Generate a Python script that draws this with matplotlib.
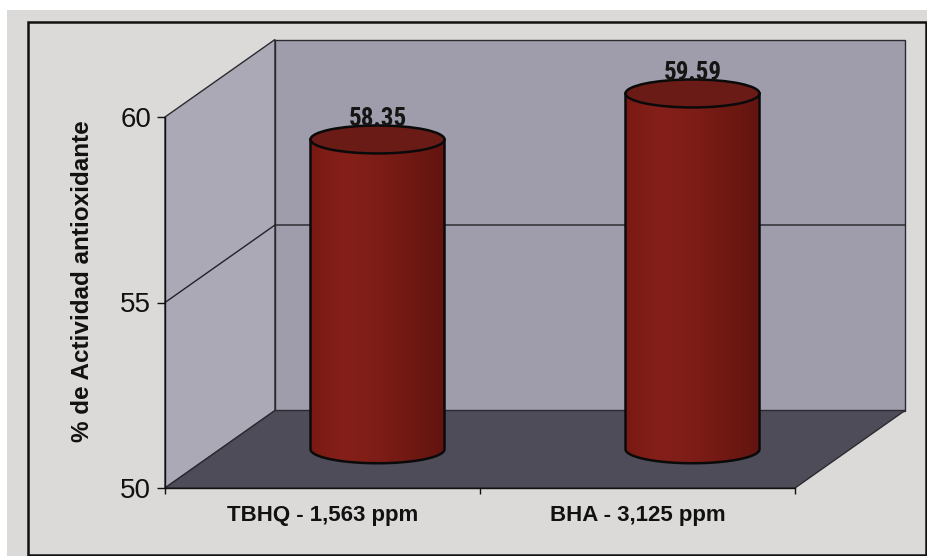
import numpy as np
import matplotlib
matplotlib.use("Agg")
import matplotlib.pyplot as plt
from matplotlib.patches import Polygon, Ellipse, Rectangle

# ---- data ----
categories = ["TBHQ - 1,563 ppm", "BHA - 3,125 ppm"]
values = [58.35, 59.59]
value_labels = ["58.35", "59.59"]
y_ticks = [50, 55, 60]
y_label = "% de Actividad antioxidante"

COND = ["Roboto Condensed", "Liberation Sans", "DejaVu Sans"]
REG = ["Liberation Sans", "DejaVu Sans"]

W, H = 927, 556
fig = plt.figure(figsize=(W / 100, H / 100), dpi=100)
fig.patch.set_facecolor("white")

# page background and chart border
fig.patches.append(Rectangle((7 / W, 0), 1 - 7 / W, 1 - 10 / H, transform=fig.transFigure,
                             facecolor="#dcdad8", edgecolor="none", zorder=-10))
fig.patches.append(Rectangle((28 / W, 1 / H), (926 - 28) / W, (555 - 22) / H, transform=fig.transFigure,
                             facecolor="none", edgecolor="#111111", lw=1.8, zorder=-5))

ax = fig.add_axes([165 / W, (H - 488) / H, 630 / W, (488 - 117) / H])
ax.set_zorder(2)
ax.patch.set_alpha(0)

# oblique depth vector (data units)
DX = 110 / 315.0
DY = 77.5 / 37.1
x0, x1 = -0.5, len(categories) - 0.5
y0, y1 = 50, 60

wall_edge = "#2a2a30"
left_wall = Polygon([(x0, y0), (x0, y1), (x0 + DX, y1 + DY), (x0 + DX, y0 + DY)],
                    closed=True, facecolor="#aba9b6", edgecolor=wall_edge, lw=1.0, clip_on=False, zorder=1)
back_wall = Polygon([(x0 + DX, y0 + DY), (x1 + DX, y0 + DY), (x1 + DX, y1 + DY), (x0 + DX, y1 + DY)],
                    closed=True, facecolor="#9f9dab", edgecolor=wall_edge, lw=1.0, clip_on=False, zorder=1)
floor = Polygon([(x0, y0), (x1, y0), (x1 + DX, y0 + DY), (x0 + DX, y0 + DY)],
                closed=True, facecolor="#4f4c59", edgecolor=wall_edge, lw=1.0, clip_on=False, zorder=2)
for p in (left_wall, back_wall, floor):
    ax.add_patch(p)

# gridlines on walls
for t in y_ticks[1:-1]:
    ax.plot([x0, x0 + DX, x1 + DX], [t, t + DY, t + DY], color="#222228", lw=1.0,
            clip_on=False, zorder=1.5)

# cylinders
hw = 67 / 315.0
ry = 14 / 37.1
cmap = matplotlib.colors.LinearSegmentedColormap.from_list(
    "cyl", ["#7a1913", "#842019", "#7e1d17", "#701812", "#621410"])
for i, v in enumerate(values):
    cx = i + DX / 2
    yb = y0 + DY / 2
    yt = v + DY / 2
    th = np.linspace(np.pi, 2 * np.pi, 60)
    body_pts = [(cx - hw, yt)] + list(zip(cx + hw * np.cos(th), yb + ry * np.sin(th))) + [(cx + hw, yt)]
    body = Polygon(body_pts, closed=True, facecolor="none", edgecolor="#0a0a0a", lw=1.8,
                   clip_on=False, zorder=4)
    ax.add_patch(body)
    grad = np.linspace(0, 1, 256).reshape(1, -1)
    im = ax.imshow(grad, cmap=cmap, extent=(cx - hw, cx + hw, yb - ry, yt), aspect="auto",
                   zorder=3)
    im.set_clip_box(fig.bbox)
    im.set_clip_path(body)
    top = Ellipse((cx, yt), 2 * hw, 2 * ry, facecolor="#6a1b16", edgecolor="#0a0a0a", lw=1.8,
                  clip_on=False, zorder=5)
    ax.add_patch(top)
    ax.annotate(value_labels[i], xy=(cx, yt + ry), xytext=(0, 5), textcoords="offset points",
                ha="center", va="center", fontsize=18, fontweight="bold", family=COND,
                color="#151515", zorder=6, annotation_clip=False)

ax.set_xlim(x0, x1)
ax.set_ylim(y0, y1)

# axes styling
for s in ("top", "right"):
    ax.spines[s].set_visible(False)
for s in ("left", "bottom"):
    ax.spines[s].set_color("#111111")
    ax.spines[s].set_linewidth(1.0)
    ax.spines[s].set_zorder(7)
ax.set_yticks(y_ticks)
ax.set_yticklabels([str(t) for t in y_ticks], fontsize=20, family=REG, color="#111111")
ax.tick_params(axis="y", direction="out", length=6, width=1.0, pad=4, colors="#111111")
ax.set_xticks(range(len(categories)))
ax.set_xticklabels(categories, fontsize=16, fontweight="bold", family=REG, color="#111111")
ax.set_xticks(np.arange(x0, x1 + 0.01, 1.0), minor=True)
ax.tick_params(axis="x", which="major", length=0, pad=12)
ax.tick_params(axis="x", which="minor", direction="out", length=4.5, width=1.0, colors="#111111")

ax.set_ylabel(y_label, fontsize=17.5, fontweight="bold", family=REG, color="#111111")
ax.yaxis.set_label_coords((94 - 165) / 630, (488 - 281) / 371)

fig.savefig("out.png", dpi=100, facecolor=fig.get_facecolor())
